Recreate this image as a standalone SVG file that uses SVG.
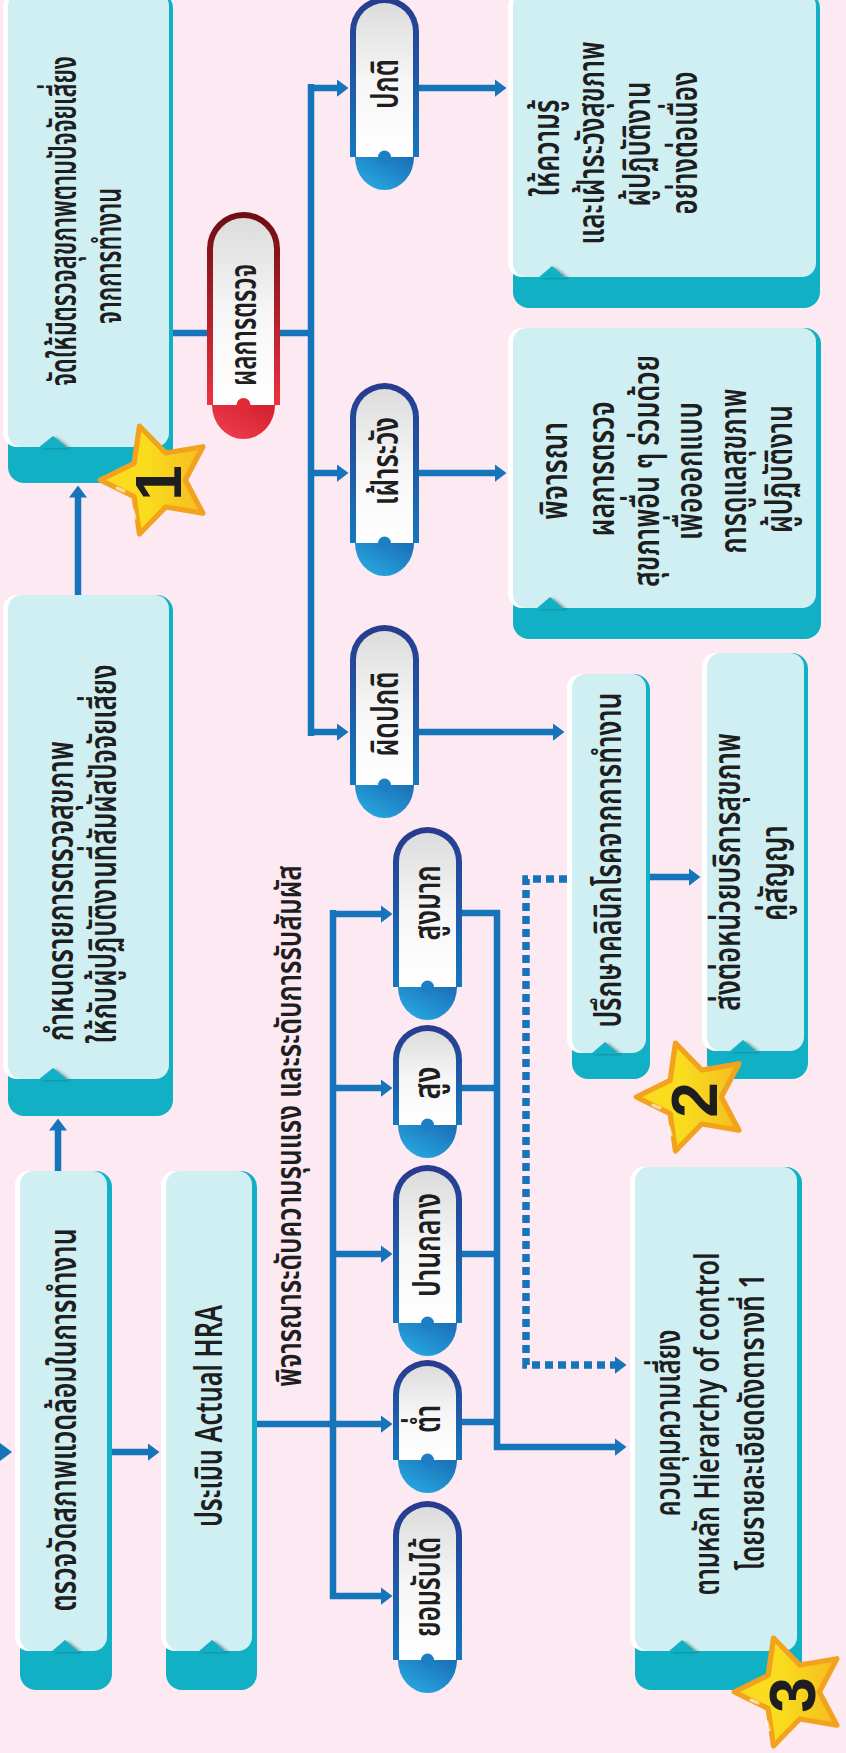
<svg xmlns="http://www.w3.org/2000/svg" width="846" height="1753" viewBox="0 0 846 1753">
<defs>
<style>
.bg{fill:#fce9f2}
.hl{fill:#ffffff}
.lt{fill:#d0eff2}
.tl{fill:#12b0c4}
.nsh{fill:#000;opacity:.35}
.ln{fill:none;stroke:#1574ba;stroke-width:6.5}
.dt{fill:none;stroke:#1574ba;stroke-width:7.5;stroke-dasharray:8 5}
.tx{font-family:"Noto Sans Thai","Noto Sans","DejaVu Sans",sans-serif;font-weight:600;fill:#1e1e1e;text-anchor:middle}
.bx{font-size:38px}
.sm{font-size:35px}
.pl{font-size:38px}
.num{font-family:"Liberation Sans",Arial,sans-serif;font-weight:bold;font-size:64px;fill:#1e1e1e;text-anchor:middle}
.pb{fill:url(#gRimB)}
.pr{fill:url(#gRimR)}
.pi{fill:url(#gIn)}
.pc{fill:url(#gCapB)}
.rc{fill:url(#gCapR)}
.bb{fill:#1d7fc3}
.rbmp{fill:#e02a39}
.star{fill:url(#gStar);stroke:#f2a21d;stroke-width:5;stroke-linejoin:round}
.glint{fill:none;stroke:#fff;stroke-width:3;stroke-linecap:round;opacity:.6}
</style>
<linearGradient id="gRimB" x1="0" y1="0" x2="0" y2="1"><stop offset="0" stop-color="#283a8e"/><stop offset="1" stop-color="#1479bf"/></linearGradient>
<linearGradient id="gRimR" x1="0" y1="0" x2="0" y2="1"><stop offset="0" stop-color="#6c0d12"/><stop offset="1" stop-color="#ee3240"/></linearGradient>
<linearGradient id="gIn" x1="0" y1="0" x2="0" y2="1"><stop offset="0" stop-color="#dcdcdc"/><stop offset=".5" stop-color="#f6f6f6"/><stop offset="1" stop-color="#ffffff"/></linearGradient>
<linearGradient id="gCapB" x1="1" y1="0" x2="0" y2="1"><stop offset="0" stop-color="#1a6db4"/><stop offset="1" stop-color="#29b0e6"/></linearGradient>
<linearGradient id="gCapR" x1="1" y1="0" x2="0" y2="1"><stop offset="0" stop-color="#d31f2e"/><stop offset="1" stop-color="#f04050"/></linearGradient>
<linearGradient id="gStar" x1="0" y1="0" x2="1" y2="0"><stop offset=".45" stop-color="#f9dc1e"/><stop offset="1" stop-color="#f5bd1f"/></linearGradient>
<filter id="blur" x="-50%" y="-50%" width="200%" height="200%"><feGaussianBlur stdDeviation="1.6"/></filter>
<marker id="ah" viewBox="0 0 12 18" refX="0.5" refY="9" markerWidth="12" markerHeight="18" markerUnits="userSpaceOnUse" orient="auto"><path d="M0,0 L12,9 L0,18 Z" fill="#1574ba"/></marker>
<path id="starShape" d="M-54,0 L-21.8,-15.9 L-16.7,-51.4 L8.3,-25.7 L43.7,-31.7 L27,0 L43.7,31.7 L8.3,25.7 L-16.7,51.4 L-21.8,15.9 Z"/>
</defs>

<rect class="bg" x="0" y="0" width="846" height="1753"/>

<!-- connectors -->
<g id="connectors">
  <!-- box 1 to result pill and branch spine -->
  <path class="ln" d="M173,333 H314"/>
  <path class="ln" d="M311,84 V736"/>
  <path class="ln" d="M308,88 H337" marker-end="url(#ah)"/>
  <path class="ln" d="M311,473 H337" marker-end="url(#ah)"/>
  <path class="ln" d="M311,732 H337" marker-end="url(#ah)"/>
  <!-- result pills to action boxes -->
  <path class="ln" d="M419,88 H495" marker-end="url(#ah)"/>
  <path class="ln" d="M419,473 H495" marker-end="url(#ah)"/>
  <path class="ln" d="M419,732 H553" marker-end="url(#ah)"/>
  <path class="ln" d="M650,877 H689" marker-end="url(#ah)"/>
  <!-- left column flow -->
  <path class="ln" d="M78,595 V497" marker-end="url(#ah)"/>
  <path class="ln" d="M58,1171 V1130" marker-end="url(#ah)"/>
  <path d="M0,1443 L12,1452 L0,1461 Z" fill="#1574ba"/>
  <path class="ln" d="M112,1452 H148" marker-end="url(#ah)"/>
  <!-- severity spine -->
  <path class="ln" d="M333,910 V1599"/>
  <path class="ln" d="M330,914 H381" marker-end="url(#ah)"/>
  <path class="ln" d="M330,1088 H381" marker-end="url(#ah)"/>
  <path class="ln" d="M330,1254 H381" marker-end="url(#ah)"/>
  <path class="ln" d="M257,1424 H381" marker-end="url(#ah)"/>
  <path class="ln" d="M330,1596 H381" marker-end="url(#ah)"/>
  <!-- severity merge to control -->
  <path class="ln" d="M462,913 H500"/>
  <path class="ln" d="M462,1088 H500"/>
  <path class="ln" d="M462,1254 H500"/>
  <path class="ln" d="M462,1422 H500"/>
  <path class="ln" d="M497,910 V1450"/>
  <path class="ln" d="M494,1447 H615" marker-end="url(#ah)"/>
  <!-- dotted link from clinic to control -->
  <path class="dt" d="M567,879 H526 V1365 H615" marker-end="url(#ah)"/>
</g>

<!-- box 1 -->
<g id="box-checkup">
  <rect class="tl" x="8" y="-8" width="165" height="491" rx="16"/>
  <rect class="hl" x="3" y="-8" width="160" height="455" rx="14"/>
  <rect class="lt" x="8" y="-8" width="161" height="455" rx="14"/>
  <path class="nsh" filter="url(#blur)" transform="translate(3,1)" d="M38,447 L53,436 L68,447 Z"/>
  <path class="tl" d="M38,448 L53,436 L68,448 Z"/>
  <text class="tx bx" transform="translate(76,221) rotate(-90)" textLength="330" lengthAdjust="spacingAndGlyphs">จัดให้มีตรวจสุขภาพตามปัจจัยเสี่ยง</text>
  <text class="tx bx" transform="translate(121,256) rotate(-90)" textLength="136" lengthAdjust="spacingAndGlyphs">จากการทำงาน</text>
</g>

<!-- box 2 -->
<g id="box-items">
  <rect class="tl" x="8" y="595" width="165" height="521" rx="16"/>
  <rect class="hl" x="3" y="595" width="160" height="484" rx="14"/>
  <rect class="lt" x="8" y="595" width="161" height="484" rx="14"/>
  <path class="nsh" filter="url(#blur)" transform="translate(3,1)" d="M38,1079 L53,1068 L68,1079 Z"/>
  <path class="tl" d="M38,1080 L53,1068 L68,1080 Z"/>
  <text class="tx bx" transform="translate(73,891) rotate(-90)" textLength="300" lengthAdjust="spacingAndGlyphs">กำหนดรายการตรวจสุขภาพ</text>
  <text class="tx bx" transform="translate(116,854) rotate(-90)" textLength="379" lengthAdjust="spacingAndGlyphs">ให้กับผู้ปฏิบัติงานที่สัมผัสปัจจัยเสี่ยง</text>
</g>

<!-- box 3 -->
<g id="box-measure">
  <rect class="tl" x="20" y="1171" width="92" height="519" rx="16"/>
  <rect class="hl" x="15" y="1171" width="88" height="480" rx="14"/>
  <rect class="lt" x="20" y="1171" width="87" height="480" rx="14"/>
  <path class="nsh" filter="url(#blur)" transform="translate(3,1)" d="M51,1651 L65,1640 L79,1651 Z"/>
  <path class="tl" d="M51,1652 L65,1640 L79,1652 Z"/>
  <text class="tx bx" transform="translate(76,1420) rotate(-90)" textLength="383" lengthAdjust="spacingAndGlyphs">ตรวจวัดสภาพแวดล้อมในการทำงาน</text>
</g>

<!-- box 4 -->
<g id="box-hra">
  <rect class="tl" x="166" y="1171" width="91" height="519" rx="16"/>
  <rect class="hl" x="161" y="1171" width="87" height="480" rx="14"/>
  <rect class="lt" x="166" y="1171" width="86" height="480" rx="14"/>
  <path class="nsh" filter="url(#blur)" transform="translate(3,1)" d="M198,1651 L212,1640 L226,1651 Z"/>
  <path class="tl" d="M198,1652 L212,1640 L226,1652 Z"/>
  <text class="tx bx" transform="translate(222,1416) rotate(-90)" textLength="222" lengthAdjust="spacingAndGlyphs">ประเมิน Actual HRA</text>
</g>

<!-- box 5 -->
<g id="box-normal">
  <rect class="tl" x="513" y="-8" width="307" height="316" rx="16"/>
  <rect class="hl" x="508" y="-8" width="303" height="285" rx="14"/>
  <rect class="lt" x="513" y="-8" width="303" height="285" rx="14"/>
  <path class="nsh" filter="url(#blur)" transform="translate(3,1)" d="M538,277 L552,266 L566,277 Z"/>
  <path class="tl" d="M538,278 L552,266 L566,278 Z"/>
  <text class="tx bx" transform="translate(559,148) rotate(-90)" textLength="97" lengthAdjust="spacingAndGlyphs">ให้ความรู้</text>
  <text class="tx bx" transform="translate(604,143) rotate(-90)" textLength="203" lengthAdjust="spacingAndGlyphs">และเฝ้าระวังสุขภาพ</text>
  <text class="tx bx" transform="translate(650,144) rotate(-90)" textLength="125" lengthAdjust="spacingAndGlyphs">ผู้ปฏิบัติงาน</text>
  <text class="tx bx" transform="translate(697,143) rotate(-90)" textLength="143" lengthAdjust="spacingAndGlyphs">อย่างต่อเนื่อง</text>
</g>

<!-- box 6 -->
<g id="box-watch">
  <rect class="tl" x="513" y="328" width="308" height="311" rx="16"/>
  <rect class="hl" x="508" y="328" width="303" height="280" rx="14"/>
  <rect class="lt" x="513" y="328" width="303" height="280" rx="14"/>
  <path class="nsh" filter="url(#blur)" transform="translate(3,1)" d="M536,608 L550,597 L564,608 Z"/>
  <path class="tl" d="M536,609 L550,597 L564,609 Z"/>
  <text class="tx bx" transform="translate(567,471) rotate(-90)" textLength="98" lengthAdjust="spacingAndGlyphs">พิจารณา</text>
  <text class="tx bx" transform="translate(614,469) rotate(-90)" textLength="135" lengthAdjust="spacingAndGlyphs">ผลการตรวจ</text>
  <text class="tx bx" transform="translate(659,471) rotate(-90)" textLength="232" lengthAdjust="spacingAndGlyphs">สุขภาพอื่น ๆ ร่วมด้วย</text>
  <text class="tx bx" transform="translate(702,471) rotate(-90)" textLength="138" lengthAdjust="spacingAndGlyphs">เพื่อออกแบบ</text>
  <text class="tx bx" transform="translate(746,471) rotate(-90)" textLength="165" lengthAdjust="spacingAndGlyphs">การดูแลสุขภาพ</text>
  <text class="tx bx" transform="translate(792,469) rotate(-90)" textLength="128" lengthAdjust="spacingAndGlyphs">ผู้ปฏิบัติงาน</text>
</g>

<!-- box 7 -->
<g id="box-clinic">
  <rect class="tl" x="572" y="674" width="78" height="405" rx="16"/>
  <rect class="hl" x="567" y="674" width="75" height="379" rx="14"/>
  <rect class="lt" x="572" y="674" width="74" height="379" rx="14"/>
  <path class="nsh" filter="url(#blur)" transform="translate(3,1)" d="M591,1053 L605,1042 L619,1053 Z"/>
  <path class="tl" d="M591,1054 L605,1042 L619,1054 Z"/>
  <text class="tx bx" transform="translate(621,860) rotate(-90)" textLength="335" lengthAdjust="spacingAndGlyphs">ปรึกษาคลินิกโรคจากการทำงาน</text>
</g>

<!-- box 8 -->
<g id="box-refer">
  <rect class="tl" x="707" y="653" width="101" height="426" rx="16"/>
  <rect class="hl" x="702" y="653" width="98" height="398" rx="14"/>
  <rect class="lt" x="707" y="653" width="97" height="398" rx="14"/>
  <path class="nsh" filter="url(#blur)" transform="translate(3,1)" d="M729,1051 L743,1040 L757,1051 Z"/>
  <path class="tl" d="M729,1052 L743,1040 L757,1052 Z"/>
  <text class="tx bx" transform="translate(740,872) rotate(-90)" textLength="278" lengthAdjust="spacingAndGlyphs">ส่งต่อหน่วยบริการสุขภาพ</text>
  <text class="tx bx" transform="translate(787,873) rotate(-90)" textLength="96" lengthAdjust="spacingAndGlyphs">คู่สัญญา</text>
</g>

<!-- box 9 -->
<g id="box-control">
  <rect class="tl" x="635" y="1167" width="167" height="523" rx="16"/>
  <rect class="hl" x="630" y="1167" width="163" height="484" rx="14"/>
  <rect class="lt" x="635" y="1167" width="162" height="484" rx="14"/>
  <path class="nsh" filter="url(#blur)" transform="translate(3,1)" d="M668,1651 L682,1640 L696,1651 Z"/>
  <path class="tl" d="M668,1652 L682,1640 L696,1652 Z"/>
  <text class="tx sm" transform="translate(680,1423) rotate(-90)" textLength="187" lengthAdjust="spacingAndGlyphs">ควบคุมความเสี่ยง</text>
  <text class="tx sm" transform="translate(719,1424) rotate(-90)" textLength="343" lengthAdjust="spacingAndGlyphs">ตามหลัก Hierarchy of control</text>
  <text class="tx sm" transform="translate(764,1422) rotate(-90)" textLength="297" lengthAdjust="spacingAndGlyphs">โดยรายละเอียดดังตารางที่ 1</text>
</g>

<!-- severity caption -->
<g id="label-severity">
  <text class="tx sm" transform="translate(301,1126) rotate(-90)" textLength="522" lengthAdjust="spacingAndGlyphs">พิจารณาระดับความรุนแรง และระดับการรับสัมผัส</text>
</g>

<!-- result pill -->
<g id="pill-result">
  <path class="pr" d="M207,405 V248.5 A36.5,36.5 0 0 1 280,248.5 V405 Z"/>
  <path class="pi" d="M213,405 V248.5 A30.5,30.5 0 0 1 274,248.5 V405 Z"/>
  <path class="rc" d="M212,405 A31.5,34 0 0 0 275,405 Z"/>
  <circle class="rbmp" cx="243.5" cy="405" r="7"/>
  <text class="tx pl" transform="translate(256,325) rotate(-90)" textLength="122" lengthAdjust="spacingAndGlyphs">ผลการตรวจ</text>
</g>

<!-- outcome pills -->
<g id="pill-normal">
  <path class="pb" d="M350,157 V31.5 A34.5,34.5 0 0 1 419,31.5 V157 Z"/>
  <path class="pi" d="M356,157 V31.5 A28.5,28.5 0 0 1 413,31.5 V157 Z"/>
  <path class="pc" d="M355,157 A29.5,33 0 0 0 414,157 Z"/>
  <circle class="bb" cx="384.5" cy="157" r="6.5"/>
  <text class="tx pl" transform="translate(398,84) rotate(-90)" textLength="50" lengthAdjust="spacingAndGlyphs">ปกติ</text>
</g>
<g id="pill-watch">
  <path class="pb" d="M350,543 V417.5 A34.5,34.5 0 0 1 419,417.5 V543 Z"/>
  <path class="pi" d="M356,543 V417.5 A28.5,28.5 0 0 1 413,417.5 V543 Z"/>
  <path class="pc" d="M355,543 A29.5,33 0 0 0 414,543 Z"/>
  <circle class="bb" cx="384.5" cy="543" r="6.5"/>
  <text class="tx pl" transform="translate(398,461) rotate(-90)" textLength="88" lengthAdjust="spacingAndGlyphs">เฝ้าระวัง</text>
</g>
<g id="pill-abnormal">
  <path class="pb" d="M350,785 V659.5 A34.5,34.5 0 0 1 419,659.5 V785 Z"/>
  <path class="pi" d="M356,785 V659.5 A28.5,28.5 0 0 1 413,659.5 V785 Z"/>
  <path class="pc" d="M355,785 A29.5,33 0 0 0 414,785 Z"/>
  <circle class="bb" cx="384.5" cy="785" r="6.5"/>
  <text class="tx pl" transform="translate(398,714) rotate(-90)" textLength="85" lengthAdjust="spacingAndGlyphs">ผิดปกติ</text>
</g>

<!-- severity pills -->
<g id="pill-very-high">
  <path class="pb" d="M393,987 V861.5 A34.5,34.5 0 0 1 462,861.5 V987 Z"/>
  <path class="pi" d="M399,987 V861.5 A28.5,28.5 0 0 1 456,861.5 V987 Z"/>
  <path class="pc" d="M398,987 A29.5,33 0 0 0 457,987 Z"/>
  <circle class="bb" cx="427.5" cy="987" r="6.5"/>
  <text class="tx pl" transform="translate(440,903) rotate(-90)" textLength="75" lengthAdjust="spacingAndGlyphs">สูงมาก</text>
</g>
<g id="pill-high">
  <path class="pb" d="M393,1125 V1059.5 A34.5,34.5 0 0 1 462,1059.5 V1125 Z"/>
  <path class="pi" d="M399,1125 V1059.5 A28.5,28.5 0 0 1 456,1059.5 V1125 Z"/>
  <path class="pc" d="M398,1125 A29.5,33 0 0 0 457,1125 Z"/>
  <circle class="bb" cx="427.5" cy="1125" r="6.5"/>
  <text class="tx pl" transform="translate(440,1083) rotate(-90)" textLength="33" lengthAdjust="spacingAndGlyphs">สูง</text>
</g>
<g id="pill-medium">
  <path class="pb" d="M393,1323 V1199.5 A34.5,34.5 0 0 1 462,1199.5 V1323 Z"/>
  <path class="pi" d="M399,1323 V1199.5 A28.5,28.5 0 0 1 456,1199.5 V1323 Z"/>
  <path class="pc" d="M398,1323 A29.5,33 0 0 0 457,1323 Z"/>
  <circle class="bb" cx="427.5" cy="1323" r="6.5"/>
  <text class="tx pl" transform="translate(440,1245) rotate(-90)" textLength="104" lengthAdjust="spacingAndGlyphs">ปานกลาง</text>
</g>
<g id="pill-low">
  <path class="pb" d="M393,1460 V1394.5 A34.5,34.5 0 0 1 462,1394.5 V1460 Z"/>
  <path class="pi" d="M399,1460 V1394.5 A28.5,28.5 0 0 1 456,1394.5 V1460 Z"/>
  <path class="pc" d="M398,1460 A29.5,33 0 0 0 457,1460 Z"/>
  <circle class="bb" cx="427.5" cy="1460" r="6.5"/>
  <text class="tx pl" transform="translate(440,1419) rotate(-90)" textLength="28" lengthAdjust="spacingAndGlyphs">ต่ำ</text>
</g>
<g id="pill-acceptable">
  <path class="pb" d="M393,1660 V1535.5 A34.5,34.5 0 0 1 462,1535.5 V1660 Z"/>
  <path class="pi" d="M399,1660 V1535.5 A28.5,28.5 0 0 1 456,1535.5 V1660 Z"/>
  <path class="pc" d="M398,1660 A29.5,33 0 0 0 457,1660 Z"/>
  <circle class="bb" cx="427.5" cy="1660" r="6.5"/>
  <text class="tx pl" transform="translate(440,1587) rotate(-90)" textLength="100" lengthAdjust="spacingAndGlyphs">ยอมรับได้</text>
</g>

<!-- numbered stars -->
<g id="star-1" transform="translate(157,480)">
  <use href="#starShape" class="star" transform="scale(1.05)"/>
  <path class="glint" d="M-40,8 L-33,11 M-24,30 L-22,38"/>
  <text class="num" transform="translate(24,3) rotate(-90)">1</text>
</g>
<g id="star-2" transform="translate(693,1097)">
  <use href="#starShape" class="star" transform="scale(1.05)"/>
  <path class="glint" d="M-40,8 L-33,11 M-24,30 L-22,38"/>
  <text class="num" transform="translate(24,3) rotate(-90)">2</text>
</g>
<g id="star-3" transform="translate(791,1692)">
  <use href="#starShape" class="star" transform="scale(1.05)"/>
  <path class="glint" d="M-40,8 L-33,11 M-24,30 L-22,38"/>
  <text class="num" transform="translate(24,3) rotate(-90)">3</text>
</g>
</svg>
